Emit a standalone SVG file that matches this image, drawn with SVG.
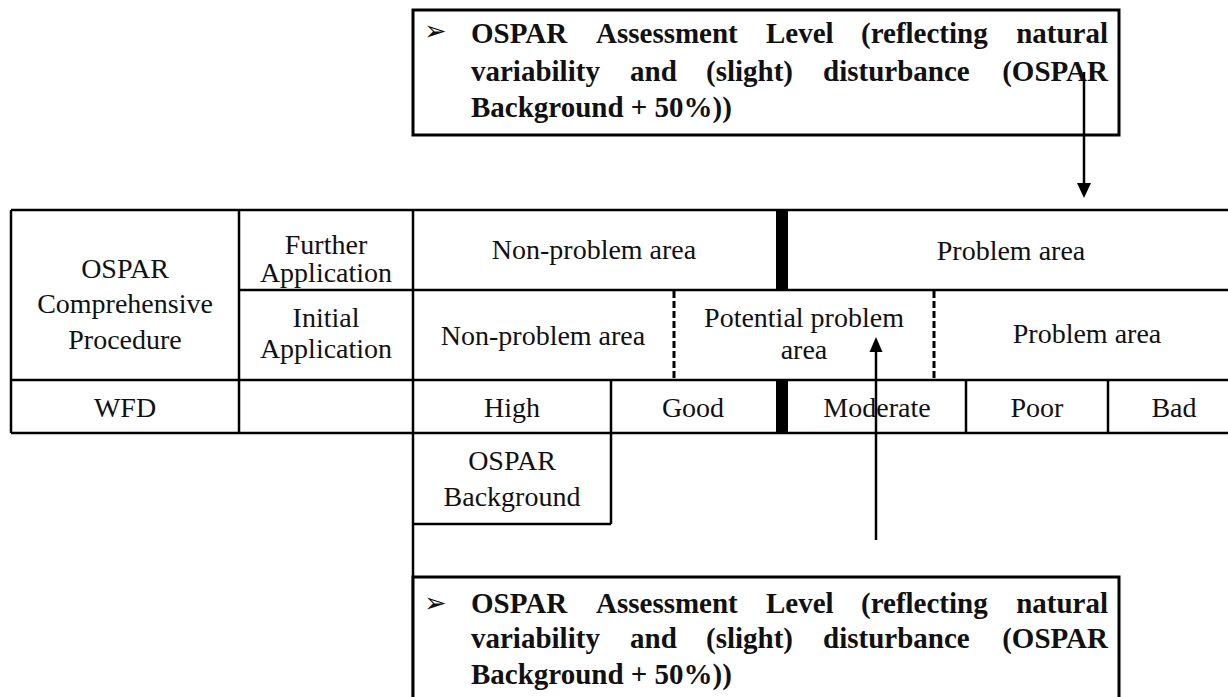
<svg xmlns="http://www.w3.org/2000/svg" width="1228" height="697" viewBox="0 0 1228 697">
  <style>
    .cell { font-family: "Liberation Serif", "Times New Roman", serif; font-size: 28px; fill: #111; text-anchor: middle; }
    .note { font-family: "Liberation Serif", "Times New Roman", serif; font-size: 29px; font-weight: bold; fill: #111; }
    .note .end { text-anchor: end; }
    .bullet { font-family: "DejaVu Sans", sans-serif; font-size: 27px; fill: #111; }
    .grid { stroke: #000; stroke-width: 2.5; fill: none; }
    .dash { stroke: #000; stroke-width: 3; stroke-dasharray: 7 3; fill: none; }
    .bar { fill: #000; }
    .box { stroke: #000; stroke-width: 3; fill: #fff; }
    .link { stroke: #000; stroke-width: 2.5; fill: none; }
    .head { fill: #000; }
  </style>

  <rect width="1228" height="697" fill="#fff"/>

  <!-- upper note box -->
  <g id="note-top">
    <rect class="box" x="413" y="10" width="706" height="125"/>
    <text class="bullet" x="424" y="40">➢</text>
    <g class="note">
      <text x="471" y="43">OSPAR</text>
      <text x="596" y="43">Assessment</text>
      <text x="766" y="43">Level</text>
      <text x="861" y="43">(reflecting</text>
      <text class="end" x="1108" y="43">natural</text>
      <text x="471" y="81">variability</text>
      <text x="630" y="81">and</text>
      <text x="706" y="81">(slight)</text>
      <text x="823" y="81">disturbance</text>
      <text class="end" x="1108" y="81">(OSPAR</text>
      <text x="471" y="117">Background + 50%))</text>
    </g>
  </g>

  <!-- classification table -->
  <g id="table">
    <path class="grid" d="M11 210 H1240 M239 290 H1240 M11 380 H1240 M11 433 H1240
                          M11 210 V433 M239 210 V433 M413 210 V697
                          M611 380 V524 M966 380 V433 M1108 380 V433"/>
    <rect class="bar" x="776" y="209" width="12" height="82"/>
    <rect class="bar" x="776" y="379" width="12" height="55"/>
    <path class="dash" d="M674 291 V380 M934 291 V380"/>
  </g>

  <g id="row-head">
    <text class="cell" x="125" y="278">OSPAR</text>
    <text class="cell" x="125" y="313">Comprehensive</text>
    <text class="cell" x="125" y="349">Procedure</text>
  </g>

  <g id="further">
    <text class="cell" x="326" y="254">Further</text>
    <text class="cell" x="326" y="282">Application</text>
    <text class="cell" x="594" y="259">Non-problem area</text>
    <text class="cell" x="1011" y="260">Problem area</text>
  </g>

  <g id="initial">
    <text class="cell" x="326" y="327">Initial</text>
    <text class="cell" x="326" y="358">Application</text>
    <text class="cell" x="543" y="345">Non-problem area</text>
    <text class="cell" x="804" y="327">Potential problem</text>
    <text class="cell" x="804" y="359">area</text>
    <text class="cell" x="1087" y="343">Problem area</text>
  </g>

  <g id="wfd">
    <text class="cell" x="125" y="417">WFD</text>
    <text class="cell" x="512" y="417">High</text>
    <text class="cell" x="693" y="417">Good</text>
    <text class="cell" x="877" y="417">Moderate</text>
    <text class="cell" x="1037" y="417">Poor</text>
    <text class="cell" x="1174" y="417">Bad</text>
  </g>

  <!-- background cell below the High column -->
  <g id="background">
    <path class="grid" d="M413 524 H611"/>
    <text class="cell" x="512" y="470">OSPAR</text>
    <text class="cell" x="512" y="506">Background</text>
  </g>

  <!-- lower note box -->
  <g id="note-bottom">
    <rect class="box" x="413" y="577" width="706" height="140"/>
    <text class="bullet" x="424" y="612">➢</text>
    <g class="note">
      <text x="471" y="613">OSPAR</text>
      <text x="596" y="613">Assessment</text>
      <text x="766" y="613">Level</text>
      <text x="861" y="613">(reflecting</text>
      <text class="end" x="1108" y="613">natural</text>
      <text x="471" y="648">variability</text>
      <text x="630" y="648">and</text>
      <text x="706" y="648">(slight)</text>
      <text x="823" y="648">disturbance</text>
      <text class="end" x="1108" y="648">(OSPAR</text>
      <text x="471" y="684">Background + 50%))</text>
    </g>
  </g>

  <!-- connectors -->
  <g id="connectors">
    <path class="link" d="M1084 72 V185"/>
    <polygon class="head" points="1077,183 1091,183 1084,198"/>
    <path class="link" d="M876 540 V350"/>
    <polygon class="head" points="869.5,352 882.5,352 876,337"/>
  </g>
</svg>
